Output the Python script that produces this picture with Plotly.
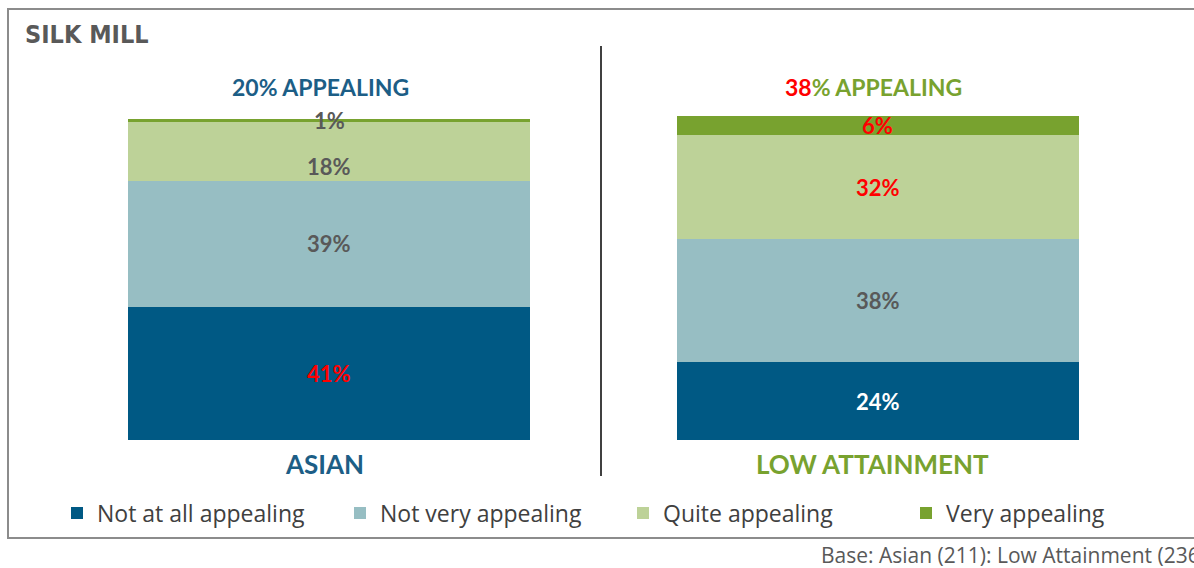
import plotly.graph_objects as go

# ---- data ----
groups = ["ASIAN", "LOW ATTAINMENT"]
series_names = ["Not at all appealing", "Not very appealing", "Quite appealing", "Very appealing"]
not_at_all = [41, 24]
not_very = [39, 38]
quite = [18, 32]
very = [1, 6]
headers = ["20% APPEALING", "<span style='color:#FF0000'>38</span>% APPEALING"]
base_note = "Base: Asian (211): Low Attainment (236)"

# ---- styles ----
W, H = 1194, 568
MT, MB = 116, 128
PH = H - MT - MB
C0, C1 = 329.0, 877.5          # pixel centres of the two bars
UNIT = C1 - C0
X_RANGE = [-C0 / UNIT, 1 + (W - C1) / UNIT]
BAR_W = 402 / UNIT
colors = ["#005984", "#97BEC3", "#BDD298", "#78A22F"]
label_colors = [["#FF0000", "#FFFFFF"], ["#595959", "#595959"],
                ["#595959", "#FF0000"], ["#595959", "#FF0000"]]
label_yshift = [[0, 0], [0, 0], [-15, 0], [0, 0]]
group_colors = ["#1C5E86", "#78A22F"]
FONT = "Lato, 'Open Sans', sans-serif"
FONT2 = "'Open Sans', sans-serif"

def px_x(p):
    return p / W

def px_y(p):
    return (H - MB - p) / PH

values = [not_at_all, not_very, quite, very]

fig = go.Figure()
for name, vals, col in zip(series_names, values, colors):
    fig.add_trace(go.Bar(x=[0, 1], y=vals, name=name, marker=dict(color=col, line=dict(width=0)),
                         width=BAR_W, hoverinfo="skip"))

annotations = []
# segment labels at cumulative midpoints
for gi, g in enumerate(groups):
    cum = 0
    for si, vals in enumerate(values):
        v = vals[gi]
        annotations.append(dict(x=gi, y=cum + v / 2, xref="x", yref="y", text=f"<b>{v}%</b>",
                                showarrow=False, yshift=label_yshift[si][gi],
                                font=dict(family=FONT, size=22, color=label_colors[si][gi])))
        cum += v

# headers and group labels
for gi, g in enumerate(groups):
    annotations.append(dict(x=gi, y=px_y(87), xref="x", yref="paper", yanchor="middle",
                            text=f"<b>{headers[gi]}</b>",
                            showarrow=False, xshift=-9 if gi == 0 else -4,
                            font=dict(family=FONT, size=23, color=group_colors[gi])))
    annotations.append(dict(x=gi, y=px_y(464), xref="x", yref="paper", yanchor="middle",
                            text=f"<b>{g}</b>",
                            showarrow=False, xshift=-5,
                            font=dict(family=FONT, size=26, color=group_colors[gi])))

# title
annotations.append(dict(x=px_x(23), y=px_y(34), xref="paper", yref="paper", xanchor="left", yanchor="middle",
                        text="<b>SILK MILL</b>", showarrow=False,
                        font=dict(family="'DejaVu Sans Condensed', 'DejaVu Sans', sans-serif",
                                  size=25, color="#595959")))
# base note
annotations.append(dict(x=px_x(819), y=px_y(555), xref="paper", yref="paper", xanchor="left", yanchor="middle",
                        text=base_note, showarrow=False,
                        font=dict(family=FONT2, size=21, color="#595959")))

shapes = [
    dict(type="rect", xref="paper", yref="paper", x0=px_x(8), x1=px_x(1210), y0=px_y(538), y1=px_y(9),
         line=dict(color="#8C8C8C", width=2), fillcolor="rgba(0,0,0,0)", layer="below"),
    dict(type="line", xref="paper", yref="paper", x0=px_x(601), x1=px_x(601), y0=px_y(476), y1=px_y(46),
         line=dict(color="#404040", width=2)),
]

fig.update_layout(
    width=W, height=H,
    margin=dict(l=0, r=0, t=MT, b=MB),
    barmode="stack",
    plot_bgcolor="white", paper_bgcolor="white",
    xaxis=dict(range=X_RANGE, showticklabels=False, showgrid=False, zeroline=False, showline=False, ticks=""),
    yaxis=dict(range=[0, 100], visible=False),
    showlegend=True,
    legend=dict(orientation="h", x=px_x(57), xanchor="left", y=px_y(513), yanchor="middle",
                font=dict(family=FONT2, size=23, color="#404040"), traceorder="normal",
                entrywidth=238, entrywidthmode="pixels",
                bgcolor="rgba(0,0,0,0)", itemclick=False),
    annotations=annotations,
    shapes=shapes,
)

fig.write_html("out.html", config={"displayModeBar": False},
               post_script="document.body.style.margin='0';")
